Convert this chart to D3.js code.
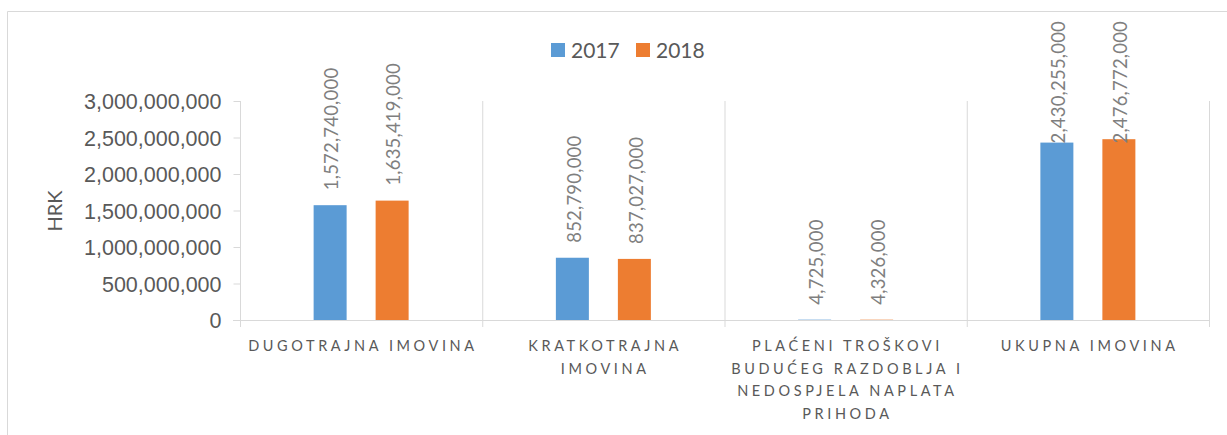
<!DOCTYPE html>
<html>
<head>
<meta charset="utf-8">
<script src="https://cdn.jsdelivr.net/npm/d3@7"></script>
<style>
  body { margin: 0; background: #fff; }
  svg { display: block; font-family: Lato, "Open Sans", sans-serif; }
</style>
</head>
<body>
<div id="chart"></div>
<script>
// podaci
var categories = ["dugotrajna", "kratkotrajna", "placeni", "ukupna"]
var categoryLines = [
	["DUGOTRAJNA IMOVINA"],
	["KRATKOTRAJNA", "IMOVINA"],
	["PLAĆENI TROŠKOVI", "BUDUĆEG RAZDOBLJA I", "NEDOSPJELA NAPLATA", "PRIHODA"],
	["UKUPNA IMOVINA"]
]
var years = ["2017", "2018"]
var values2017 = [1572740000, 852790000, 4725000, 2430255000]
var values2018 = [1635419000, 837027000, 4326000, 2476772000]
var yTicks = [0, 500000000, 1000000000, 1500000000, 2000000000, 2500000000, 3000000000]
var colors = ["#5b9bd5", "#ed7d31"]

var width = 1227, height = 435

var svg = d3.select("#chart")
	.append("svg")
	.attr("width", width)
	.attr("height", height)

// okvir
svg.append("path")
	.attr("d", "M7.5,435 V11.5 H1227")
	.attr("fill", "none")
	.attr("stroke", "#d9d9d9")

var x0 = d3.scaleBand()
	.domain(categories)
	.range([240, 1209])

var x1 = d3.scaleBand()
	.domain(years)
	.range([-47.5, 47.5])
	.paddingInner(29 / 62)

var y = d3.scaleLinear()
	.domain([0, 3000000000])
	.range([320, 101])

// vertikalne linije izmedju kategorija
svg.append("g")
	.selectAll("line")
	.data(d3.range(categories.length + 1))
	.enter()
	.append("line")
	.attr("x1", d => 240 + d * x0.step() + 0.5)
	.attr("x2", d => 240 + d * x0.step() + 0.5)
	.attr("y1", y(3000000000))
	.attr("y2", 327)
	.attr("stroke", "#d9d9d9")

// y os
const yaxis = d3.axisLeft()
	.scale(y)
	.tickValues(yTicks)
	.tickFormat(d3.format(","))
	.tickSize(7)
	.tickPadding(12)

var gy = svg.append("g")
	.attr("transform", "translate(240.5,0)")
	.call(yaxis)
gy.select(".domain").remove()
gy.selectAll(".tick line").attr("stroke", "#d9d9d9")
gy.selectAll(".tick text")
	.attr("fill", "#595959")
	.style("font-size", "21.5px")
	.attr("dy", "0.36em")

// x os linija
svg.append("line")
	.attr("x1", 233)
	.attr("x2", 1210)
	.attr("y1", y(0) + 0.5)
	.attr("y2", y(0) + 0.5)
	.attr("stroke", "#d9d9d9")

svg.append("text")
	.attr("transform", "translate(62,211) rotate(-90)")
	.attr("text-anchor", "middle")
	.attr("fill", "#595959")
	.style("font-size", "20px")
	.text("HRK")

// stupci
var rows = categories.map((c, i) => ({ cat: c, vals: [values2017[i], values2018[i]] }))

var groups = svg.selectAll(".grp")
	.data(rows)
	.enter()
	.append("g")
	.attr("class", "grp")
	.attr("transform", d => "translate(" + (x0(d.cat) + x0.bandwidth() / 2) + ",0)")

groups.selectAll("rect")
	.data(d => d.vals.map((v, j) => ({ year: years[j], value: v, j: j })))
	.enter()
	.append("rect")
	.attr("x", d => x1(d.year))
	.attr("width", x1.bandwidth())
	.attr("y", d => y(d.value))
	.attr("height", d => y(0) - y(d.value))
	.attr("fill", d => colors[d.j])

groups.selectAll(".lbl")
	.data(d => d.vals.map((v, j) => ({ year: years[j], value: v, j: j })))
	.enter()
	.append("text")
	.attr("class", "lbl")
	.attr("fill", "#7f7f7f")
	.style("font-size", "18.5px")
	.style("letter-spacing", "0.2px")
	.attr("text-anchor", "start")
	.attr("dy", "0.36em")
	.text(d => d3.format(",")(d.value))
	.attr("transform", function (d) {
		var len = this.getComputedTextLength()
		var base = y(d.value) - 15
		if (base - len < 21) base = 21 + len
		return "translate(" + (x1(d.year) + x1.bandwidth() / 2 + 1.5) + "," + base + ") rotate(-90)"
	})

// nazivi kategorija
var ls = 3.6
groups.each(function (d, i) {
	d3.select(this).selectAll(".cat")
		.data(categoryLines[i])
		.enter()
		.append("text")
		.attr("class", "cat")
		.attr("x", ls / 2)
		.attr("y", (t, k) => 351 + k * 22.7)
		.attr("text-anchor", "middle")
		.attr("fill", "#595959")
		.style("font-size", "14.5px")
		.style("letter-spacing", ls + "px")
		.text(t => t)
})

// legenda
var legend = svg.append("g")
	.selectAll("g")
	.data(years)
	.enter()
	.append("g")
	.attr("transform", (d, i) => "translate(" + (551 + i * 85) + ",43)")

legend.append("rect")
	.attr("width", 14)
	.attr("height", 14)
	.attr("fill", (d, i) => colors[i])

legend.append("text")
	.attr("x", 20)
	.attr("y", 7)
	.attr("dy", "0.36em")
	.attr("fill", "#595959")
	.style("font-size", "21px")
	.text(d => d)
</script>
</body>
</html>
